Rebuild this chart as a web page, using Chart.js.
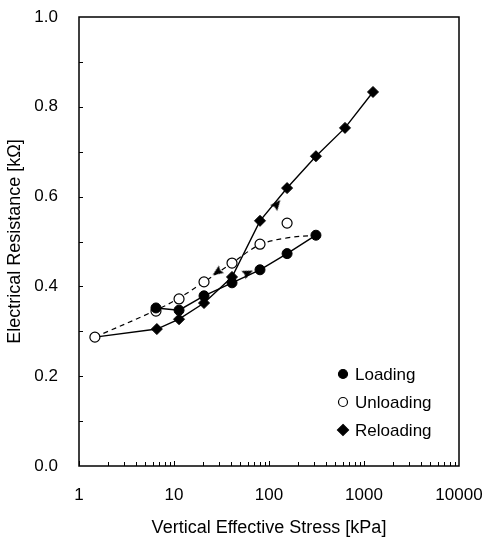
<!DOCTYPE html>
<html>
<head>
<meta charset="utf-8">
<script src="https://cdn.jsdelivr.net/npm/chart.js@4.4.1/dist/chart.umd.min.js"></script>
<style>
  html, body { margin: 0; padding: 0; background: #fff; }
  #wrap { width: 484px; height: 537px; }
</style>
</head>
<body>
<div id="wrap"><canvas id="myChart"></canvas></div>
<script>
// values
const loadX = [6.46, 11.3, 20.7, 40.8, 80.4, 155, 312];
const loadY = [0.352, 0.347, 0.379, 0.408, 0.437, 0.473, 0.514];

const unloadX = [1.47, 6.46, 11.3, 20.7, 40.8, 80.4, 155];
const unloadY = [0.287, 0.345, 0.372, 0.410, 0.452, 0.494, 0.541];

// dashed trend drawn through the unloading data
const unloadCurveX = [1.47, 6.46, 11.3, 20.7, 40.8, 80.4, 155, 312];
const unloadCurveY = [0.287, 0.347, 0.374, 0.410, 0.452, 0.493, 0.508, 0.514];

const reloadX = [1.47, 6.6, 11.3, 20.7, 40.8, 80.4, 155, 312, 631, 1244];
const reloadY = [0.287, 0.305, 0.327, 0.363, 0.421, 0.546, 0.619, 0.690, 0.753, 0.833];

const arrowX = [60, 28.5, 121];
const arrowY = [0.430, 0.432, 0.583];
const arrowDir = [65, -124, 39];

const xTicks = [1, 10, 100, 1000, 10000];
const yTicks = [0, 0.2, 0.4, 0.6, 0.8, 1.0];

const FONT = 'Liberation Sans, Arial, Helvetica, sans-serif';

function pts(xs, ys) {
    return xs.map((x, i) => ({ x, y: ys[i] }));
}

// arrowhead pointing up, rotated by chart.js via pointRotation
function arrowHead() {
    const c = document.createElement('canvas');
    c.width = 12; c.height = 12;
    const g = c.getContext('2d');
    g.fillStyle = '#000';
    g.beginPath();
    g.moveTo(6, 0.5);
    g.lineTo(10.5, 11);
    g.lineTo(6, 9.5);
    g.lineTo(1.5, 11);
    g.closePath();
    g.fill();
    return c;
}

const frame = {
    id: 'frame',
    beforeDraw(chart) {
        const ctx = chart.ctx;
        ctx.save();
        ctx.fillStyle = '#fff';
        ctx.fillRect(0, 0, chart.width, chart.height);
        ctx.restore();
    },
    afterDraw(chart) {
        const { ctx, chartArea: a, scales: { x, y } } = chart;
        ctx.save();
        ctx.strokeStyle = '#000';
        ctx.lineWidth = 1.5;
        ctx.strokeRect(a.left, a.top, a.right - a.left, a.bottom - a.top);

        // inward ticks
        ctx.lineWidth = 1;
        ctx.beginPath();
        for (let d = 1; d < 10000; d *= 10) {
            for (let k = 1; k < 10; k++) {
                const px = Math.round(x.getPixelForValue(d * k)) + 0.5;
                const len = k === 1 ? 5 : 4;
                ctx.moveTo(px, a.bottom);
                ctx.lineTo(px, a.bottom - len);
            }
        }
        for (let i = 1; i < 10; i++) {
            const py = Math.round(y.getPixelForValue(i / 10)) + 0.5;
            ctx.moveTo(a.left, py);
            ctx.lineTo(a.left + 4, py);
        }
        ctx.stroke();

        // legend inside the plot, lower right
        const mx = a.right - 116;
        const tx = a.right - 104;
        const rows = [a.bottom - 92, a.bottom - 64, a.bottom - 36];
        const items = chart.data.datasets.filter(ds => ds.inLegend);
        ctx.font = '17px ' + FONT;
        ctx.textBaseline = 'middle';
        ctx.fillStyle = '#000';
        items.forEach((ds, i) => {
            const yy = rows[i];
            ctx.beginPath();
            if (ds.pointStyle === 'rectRot') {
                ctx.moveTo(mx, yy - 5.5);
                ctx.lineTo(mx + 5.5, yy);
                ctx.lineTo(mx, yy + 5.5);
                ctx.lineTo(mx - 5.5, yy);
                ctx.closePath();
            } else {
                ctx.arc(mx, yy, 4.5, 0, Math.PI * 2);
            }
            ctx.fillStyle = ds.pointBackgroundColor;
            ctx.fill();
            ctx.lineWidth = 1.2;
            ctx.strokeStyle = '#000';
            ctx.stroke();
            ctx.fillStyle = '#000';
            ctx.fillText(ds.label, tx, yy + 1);
        });
        ctx.restore();
    }
};

const ctx = document.getElementById('myChart').getContext('2d');
new Chart(ctx, {
    type: 'scatter',
    data: {
        datasets: [
            { label: 'Arrows', data: pts(arrowX, arrowY), showLine: false, pointStyle: arrowHead(),
              pointRotation: arrowDir, pointRadius: 6 },
            { label: 'Loading', inLegend: true, data: pts(loadX, loadY), showLine: true, borderColor: '#000', borderWidth: 1.4,
              pointStyle: 'circle', pointRadius: 5, pointBackgroundColor: '#000', pointBorderColor: '#000', pointBorderWidth: 1 },
            { label: 'Unloading', inLegend: true, data: pts(unloadX, unloadY), showLine: false,
              pointStyle: 'circle', pointRadius: 5, pointBackgroundColor: '#fff', pointBorderColor: '#000', pointBorderWidth: 1.2 },
            { label: 'Reloading', inLegend: true, data: pts(reloadX, reloadY), showLine: true, borderColor: '#000', borderWidth: 1.4,
              pointStyle: 'rectRot', pointRadius: reloadX.map((v, i) => i === 0 ? 0 : 5.5),
              pointBackgroundColor: '#000', pointBorderColor: '#000', pointBorderWidth: 1 },
            { label: 'Unloading trend', data: pts(unloadCurveX, unloadCurveY), showLine: true, borderColor: '#000',
              borderWidth: 1.2, borderDash: [5, 4], tension: 0.35, pointRadius: 0 }
        ]
    },
    options: {
        responsive: true,
        maintainAspectRatio: false,
        animation: false,
        events: [],
        layout: { padding: { top: 17, right: 25, left: 0, bottom: 0 } },
        plugins: { legend: { display: false }, tooltip: { enabled: false } },
        scales: {
            x: {
                type: 'logarithmic', min: 1, max: 10000,
                afterBuildTicks: s => { s.ticks = xTicks.map(v => ({ value: v })); },
                afterFit: s => { s.height = 71; s.paddingLeft = 0; s.paddingRight = 0; },
                ticks: { color: '#000', font: { family: FONT, size: 17 }, padding: 19, maxRotation: 0,
                         callback: v => String(v) },
                grid: { display: false, drawTicks: false },
                border: { display: false },
                title: { display: true, text: 'Vertical Effective Stress [kPa]', color: '#000',
                         font: { family: FONT, size: 18, lineHeight: 1 }, padding: { top: 0, bottom: 0 } }
            },
            y: {
                type: 'linear', min: 0, max: 1,
                afterBuildTicks: s => { s.ticks = yTicks.map(v => ({ value: v })); },
                afterFit: s => { s.width = 79; s.paddingTop = 0; s.paddingBottom = 0; },
                ticks: { color: '#000', font: { family: FONT, size: 17 }, padding: 21,
                         callback: v => v.toFixed(1) },
                grid: { display: false, drawTicks: false },
                border: { display: false },
                title: { display: true, text: 'Electrical Resistance [kΩ]', color: '#000',
                         font: { family: FONT, size: 18, lineHeight: 1 }, padding: { top: 6, bottom: 0 } }
            }
        }
    },
    plugins: [frame]
});
</script>
</body>
</html>
